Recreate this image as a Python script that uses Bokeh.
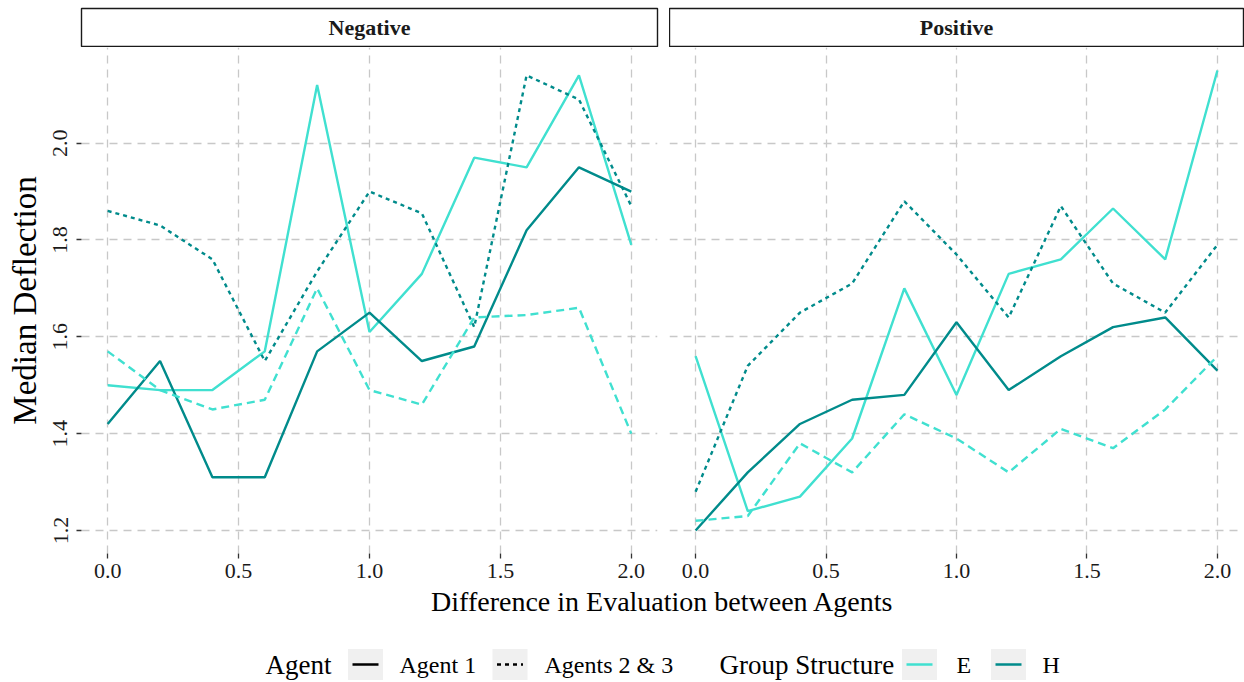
from bokeh.plotting import figure
from bokeh.layouts import column, row
from bokeh.models import Range1d, FixedTicker, ColumnDataSource, Grid, NumeralTickFormatter
from bokeh.core.properties import value
from bokeh.embed import file_html
from bokeh.resources import INLINE

FONT = "Liberation Serif"

# difference in evaluation between agents (x axis)
diff = [0.0, 0.2, 0.4, 0.6, 0.8, 1.0, 1.2, 1.4, 1.6, 1.8, 2.0]

panels = ["Negative", "Positive"]
agents = ["Agent 1", "Agents 2 & 3"]
structures = ["E", "H"]

# median deflection, Negative facet
neg_E_agent1 = [1.50, 1.49, 1.49, 1.57, 2.12, 1.61, 1.73, 1.97, 1.95, 2.14, 1.79]
neg_H_agent1 = [1.42, 1.55, 1.31, 1.31, 1.57, 1.65, 1.55, 1.58, 1.82, 1.95, 1.90]
neg_E_agents23 = [1.57, 1.49, 1.45, 1.47, 1.70, 1.49, 1.46, 1.64, 1.645, 1.66, 1.40]
neg_H_agents23 = [1.86, 1.83, 1.76, 1.55, 1.735, 1.90, 1.855, 1.62, 2.14, 2.09, 1.87]

# median deflection, Positive facet
pos_E_agent1 = [1.56, 1.24, 1.27, 1.39, 1.70, 1.48, 1.73, 1.76, 1.865, 1.76, 2.15]
pos_H_agent1 = [1.20, 1.32, 1.42, 1.47, 1.48, 1.63, 1.49, 1.56, 1.62, 1.64, 1.53]
pos_E_agents23 = [1.22, 1.23, 1.38, 1.32, 1.44, 1.39, 1.32, 1.41, 1.37, 1.45, 1.56]
pos_H_agents23 = [1.28, 1.54, 1.65, 1.71, 1.88, 1.77, 1.64, 1.87, 1.71, 1.65, 1.79]

x_ticks = [0.0, 0.5, 1.0, 1.5, 2.0]
y_ticks = [1.2, 1.4, 1.6, 1.8, 2.0]

series = {
    "Negative": {
        ("E", "Agent 1"): neg_E_agent1,
        ("H", "Agent 1"): neg_H_agent1,
        ("E", "Agents 2 & 3"): neg_E_agents23,
        ("H", "Agents 2 & 3"): neg_H_agents23,
    },
    "Positive": {
        ("E", "Agent 1"): pos_E_agent1,
        ("H", "Agent 1"): pos_H_agent1,
        ("E", "Agents 2 & 3"): pos_E_agents23,
        ("H", "Agents 2 & 3"): pos_H_agents23,
    },
}

COLORS = {"E": "#40E0D0", "H": "#008B8B"}
DASH = {
    ("E", "Agent 1"): "solid",
    ("H", "Agent 1"): "solid",
    ("E", "Agents 2 & 3"): "8 5",
    ("H", "Agents 2 & 3"): "4 4",
}
GRID_COLOR = "#C8C8C8"

# shared y scale with 5% expansion, x scale with 5% expansion
all_vals = [v for panel in series.values() for vals in panel.values() for v in vals]
y_lo, y_hi = min(all_vals), max(all_vals)
y_pad = 0.05 * (y_hi - y_lo)
x_pad = 0.05 * (max(diff) - min(diff))

LEFT_BORDER = 81
GAP = 12
FRAME_H = 506
BOTTOM_BORDER = 48      # room under each panel for the tick labels
OVERLAP = 16            # the bottom strip starts this far above the panels' lower edge


def strip(label, frame_w, left, right):
    s = figure(x_range=Range1d(0, 1), y_range=Range1d(0, 1),
               frame_width=frame_w, frame_height=38,
               min_border_left=left, min_border_right=right,
               min_border_top=8, min_border_bottom=1,
               x_axis_location=None, y_axis_location=None,
               output_backend="svg", toolbar_location=None)
    s.center = [r for r in s.center if not isinstance(r, Grid)]
    s.outline_line_color = "#1a1a1a"
    s.outline_line_width = 1.4
    s.border_fill_color = "white"
    s.text(x=[0.5], y=[0.5], text=[label], text_font=value(FONT),
           text_font_style="bold", text_font_size="22px",
           text_align="center", text_baseline="middle", text_color="#1a1a1a")
    return s


def panel(name, frame_w, left, right, show_y):
    p = figure(x_range=Range1d(min(diff) - x_pad, max(diff) + x_pad),
               y_range=Range1d(y_lo - y_pad, y_hi + y_pad),
               frame_width=frame_w, frame_height=FRAME_H,
               min_border_left=left, min_border_right=right,
               min_border_top=0, min_border_bottom=BOTTOM_BORDER,
               y_axis_location="left" if show_y else None,
               output_backend="svg", toolbar_location=None)
    p.outline_line_color = None
    p.center = [r for r in p.center if not isinstance(r, Grid)]
    for dim, ticks in ((0, x_ticks), (1, y_ticks)):
        p.add_layout(Grid(dimension=dim, ticker=FixedTicker(ticks=ticks),
                          grid_line_color=GRID_COLOR, grid_line_width=1.3,
                          grid_line_dash="8 6"), "center")

    axes = [p.xaxis[0]] + ([p.yaxis[0]] if show_y else [])
    for ax in axes:
        ax.axis_line_color = None
        ax.major_tick_in = 0
        ax.major_tick_out = 5
        ax.major_tick_line_color = "#333333"
        ax.major_tick_line_width = 1.3
        ax.minor_tick_line_color = None
        ax.major_label_text_font = FONT
        ax.major_label_text_font_size = "22px"
        ax.major_label_text_color = "#1a1a1a"
        ax.major_label_standoff = 5
        ax.formatter = NumeralTickFormatter(format="0.0")
    p.xaxis.ticker = FixedTicker(ticks=x_ticks)
    if show_y:
        p.yaxis.ticker = FixedTicker(ticks=y_ticks)
        p.yaxis.major_label_orientation = "parallel"
        p.yaxis.major_label_standoff = 9
        p.yaxis.axis_label = "Median Deflection"
        p.yaxis.axis_label_text_font = FONT
        p.yaxis.axis_label_text_font_size = "33px"
        p.yaxis.axis_label_text_font_style = "normal"
        p.yaxis.axis_label_text_color = "#000000"
        p.yaxis.axis_label_standoff = 8

    for agent in agents:
        for st in structures:
            src = ColumnDataSource(dict(x=diff, y=series[name][(st, agent)]))
            p.line("x", "y", source=src, line_color=COLORS[st], line_width=2.4,
                   line_dash=DASH[(st, agent)])
    return p


stripL = strip(panels[0], 576, LEFT_BORDER, GAP)
stripR = strip(panels[1], 574, 0, 1)
figL = panel(panels[0], 576, LEFT_BORDER, GAP, True)
figR = panel(panels[1], 574, 0, 1, False)

# bottom area: shared x-axis title and the two legends, in pixel coordinates
top_y = 47 + FRAME_H + BOTTOM_BORDER - OVERLAP
B_H = 682 - top_y
fb = figure(x_range=Range1d(0, 1244), y_range=Range1d(B_H, 0),
            frame_width=1244, frame_height=B_H,
            min_border_left=0, min_border_right=0, min_border_top=0, min_border_bottom=0,
            x_axis_location=None, y_axis_location=None,
            output_backend="svg", toolbar_location=None,
            margin=(-OVERLAP, 0, 0, 0))
fb.center = [r for r in fb.center if not isinstance(r, Grid)]
fb.outline_line_color = None
fb.background_fill_alpha = 0
fb.border_fill_alpha = 0

fb.text(x=[662], y=[601 - top_y], text=["Difference in Evaluation between Agents"],
        text_font=value(FONT), text_font_size="28px", text_align="center",
        text_baseline="middle", text_color="#000000")

mid = 664 - top_y
key_top, key_bot = 648.5 - top_y, 679.5 - top_y
# legend titles
fb.text(x=[265, 719], y=[mid, mid], text=["Agent", "Group Structure"],
        text_font=value(FONT), text_font_size="27px", text_align="left",
        text_baseline="middle", text_color="#000000")
# key backgrounds
key_cx = [365, 509.5, 919, 1008]
fb.quad(left=[c - 17.5 for c in key_cx], right=[c + 17.5 for c in key_cx],
        top=[key_top] * 4, bottom=[key_bot] * 4,
        fill_color="#F0F0F0", line_color=None)
kmid = (key_top + key_bot) / 2
# Agent keys (linetype)
fb.segment(x0=[key_cx[0] - 13], y0=[kmid], x1=[key_cx[0] + 13], y1=[kmid],
           line_color="black", line_width=2.5)
fb.segment(x0=[key_cx[1] - 13], y0=[kmid], x1=[key_cx[1] + 13], y1=[kmid],
           line_color="black", line_width=2.5, line_dash="4 4")
# Group structure keys (colour)
for c, st in zip(key_cx[2:], structures):
    fb.segment(x0=[c - 13], y0=[kmid], x1=[c + 13], y1=[kmid],
               line_color=COLORS[st], line_width=2.5)
fb.text(x=[399, 544, 956, 1042], y=[mid] * 4,
        text=agents + structures,
        text_font=value(FONT), text_font_size="24px", text_align="left",
        text_baseline="middle", text_color="#000000")

layout = column(row(stripL, stripR), row(figL, figR), fb)

open("out.html", "w").write(file_html(layout, INLINE))
